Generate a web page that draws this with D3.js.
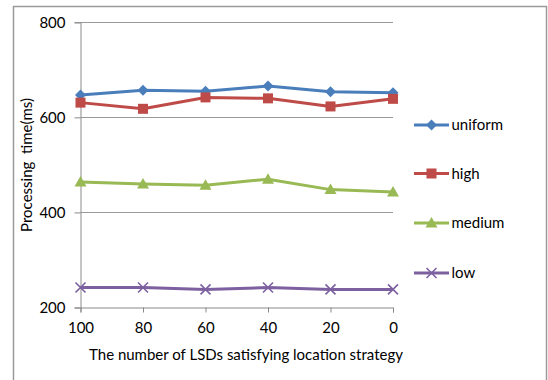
<!DOCTYPE html>
<html>
<head>
<meta charset="utf-8">
<script src="https://cdn.jsdelivr.net/npm/d3@7"></script>
<style>
  html, body { margin: 0; padding: 0; background: #fff; }
  svg { display: block; font-family: Lato, "Liberation Sans", Arial, sans-serif; }
</style>
</head>
<body>
<svg id="chart" width="548" height="380"></svg>
<script>
// Processing time per strategy vs. number of LSDs satisfying location strategy
const categories = ["100", "80", "60", "40", "20", "0"];
const uniform = [647, 657, 655, 666, 654, 652];
const high    = [631, 618, 642, 640, 623, 639];
const medium  = [464, 460, 457, 470, 448, 443];
const low     = [242, 242, 238, 242, 238, 238];
const yTicks  = [200, 400, 600, 800];
const seriesNames  = ["uniform", "high", "medium", "low"];
const seriesColors = ["#4A7EBB", "#BE4B48", "#98B954", "#7D60A0"];
const seriesShapes = ["diamond", "square", "triangle", "cross"];

const FONT = "Lato, 'Liberation Sans', Arial, sans-serif";
const FS = 15;

const series = [uniform, high, medium, low].map((values, i) => ({
  name: seriesNames[i], values, color: seriesColors[i], shape: seriesShapes[i]
}));

const svg = d3.select("#chart");
const plot = { left: 80.5, right: 393, top: 22.3, bottom: 307.5 };

const x = d3.scalePoint().domain(categories).range([plot.left, plot.right]);
const y = d3.scaleLinear().domain([200, 800]).range([plot.bottom, plot.top]);

// chart area frame (open at the bottom)
svg.append("path")
  .attr("d", "M13.5,380 V6.5 H546.5 V380")
  .attr("fill", "none").attr("stroke", "#9a9a9a").attr("stroke-width", 1.5);

// horizontal gridlines
svg.append("g").selectAll("line").data(yTicks.slice(1)).join("line")
  .attr("x1", plot.left).attr("x2", plot.right)
  .attr("y1", d => Math.round(y(d)) + 0.5).attr("y2", d => Math.round(y(d)) + 0.5)
  .attr("stroke", "#9a9a9a").attr("stroke-width", 1);

// y axis
const yAxis = svg.append("g")
  .attr("transform", `translate(${plot.left},0)`)
  .call(d3.axisLeft(y).tickValues(yTicks).tickSize(6).tickPadding(9).tickFormat(d3.format("d")));
yAxis.select(".domain").attr("stroke", "#8a8a8a");
yAxis.selectAll(".tick line").attr("stroke", "#8a8a8a");
yAxis.selectAll("text").attr("font-size", FS).attr("fill", "#000").attr("font-family", FONT);

// x axis
const xAxis = svg.append("g")
  .attr("transform", `translate(0,${plot.bottom})`)
  .call(d3.axisBottom(x).tickSize(5).tickPadding(10));
xAxis.select(".domain").attr("stroke", "#8a8a8a");
xAxis.selectAll(".tick line").attr("stroke", "#8a8a8a");
xAxis.selectAll("text").attr("font-size", FS).attr("fill", "#000").attr("font-family", FONT);

// axis titles
svg.append("text")
  .attr("x", 246).attr("y", 360)
  .attr("text-anchor", "middle").attr("font-size", FS).attr("fill", "#000")
  .text("The number of LSDs satisfying location strategy");

svg.append("text")
  .attr("transform", "translate(32,165) rotate(-90)")
  .attr("text-anchor", "middle").attr("font-size", FS).attr("fill", "#000")
  .attr("xml:space", "preserve")
  .style("white-space", "pre")
  .text("Processing  time(ms)");

// marker drawing
function drawMarker(g, shape, color) {
  if (shape === "diamond") {
    g.append("path").attr("d", "M0,-5.5 L5.5,0 L0,5.5 L-5.5,0 Z").attr("fill", color);
  } else if (shape === "square") {
    g.append("rect").attr("x", -5).attr("y", -5).attr("width", 10).attr("height", 10).attr("fill", color);
  } else if (shape === "triangle") {
    g.append("path").attr("d", "M0,-6 L6,4.5 L-6,4.5 Z").attr("fill", color);
  } else {
    g.append("path").attr("d", "M-5,-5 L5,5 M-5,5 L5,-5")
      .attr("stroke", color).attr("stroke-width", 1.6).attr("fill", "none");
  }
}

const line = d3.line().x((d, i) => x(categories[i])).y(d => y(d));

series.forEach(s => {
  svg.append("path")
    .attr("d", line(s.values))
    .attr("fill", "none").attr("stroke", s.color)
    .attr("stroke-width", 3).attr("stroke-linejoin", "round");
  s.values.forEach((v, i) => {
    const g = svg.append("g").attr("transform", `translate(${x(categories[i])},${y(v)})`);
    drawMarker(g, s.shape, s.color);
  });
});

// legend
const legendY = [125, 173.5, 223, 273];
series.forEach((s, i) => {
  const g = svg.append("g").attr("transform", `translate(0,${legendY[i]})`);
  g.append("line").attr("x1", 414).attr("x2", 449).attr("y1", 0).attr("y2", 0)
    .attr("stroke", s.color).attr("stroke-width", 3);
  const m = g.append("g").attr("transform", "translate(431.5,0)");
  drawMarker(m, s.shape, s.color);
  g.append("text").attr("x", 451.5).attr("y", 5).attr("font-size", FS).attr("fill", "#000")
    .text(s.name);
});
</script>
</body>
</html>
